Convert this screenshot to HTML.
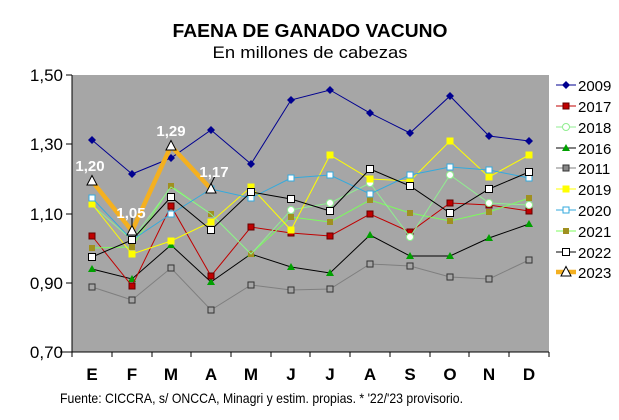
<!DOCTYPE html>
<html><head><meta charset="utf-8"><style>
html,body{margin:0;padding:0;background:#fff;}
svg{display:block;font-family:"Liberation Sans",Arial,sans-serif;}
</style></head><body>
<svg width="619" height="420" viewBox="0 0 619 420">
<defs>
<path id="dia" d="M0,-4 L4,0 L0,4 L-4,0Z"/>
<rect id="sq" x="-3.5" y="-3.5" width="7" height="7"/>
<rect id="sqs" x="-3" y="-3" width="6" height="6"/>
<path id="tri" d="M0,-4 L4,3 L-4,3Z"/>
<path id="triL" d="M0,-5.5 L5,4 L-5,4Z"/>
</defs>
<text x="310" y="37" text-anchor="middle" font-weight="bold" font-size="18" textLength="275" lengthAdjust="spacingAndGlyphs">FAENA DE GANADO VACUNO</text>
<text x="310" y="58" text-anchor="middle" font-size="17" textLength="195" lengthAdjust="spacingAndGlyphs">En millones de cabezas</text>
<rect x="72" y="75" width="477" height="277" fill="#a6a6a6"/>
<g stroke="#000" stroke-width="1">
<line x1="72" y1="75" x2="72" y2="352"/>
<line x1="60" y1="352" x2="549" y2="352"/>
<line x1="66" y1="75" x2="72" y2="75"/><line x1="66" y1="144" x2="72" y2="144"/><line x1="66" y1="214" x2="72" y2="214"/><line x1="66" y1="283" x2="72" y2="283"/>
<path d="M112,352v5M152,352v5M191,352v5M231,352v5M271,352v5M310,352v5M350,352v5M390,352v5M430,352v5M469,352v5M509,352v5M549,352v5M72,352v5"/>
</g>
<g font-size="17" text-anchor="end">
<text x="63" y="81">1,50</text><text x="63" y="150">1,30</text><text x="63" y="220">1,10</text><text x="63" y="289">0,90</text><text x="63" y="358">0,70</text>
</g>
<g font-size="17" font-weight="bold" text-anchor="middle">
<text x="92" y="380">E</text><text x="132" y="380">F</text><text x="171" y="380">M</text><text x="211" y="380">A</text><text x="251" y="380">M</text><text x="291" y="380">J</text><text x="330" y="380">J</text><text x="370" y="380">A</text><text x="410" y="380">S</text><text x="450" y="380">O</text><text x="489" y="380">N</text><text x="529" y="380">D</text>
</g>
<text x="60" y="403" font-size="14" textLength="403" lengthAdjust="spacingAndGlyphs">Fuente: CICCRA, s/ ONCCA, Minagri y estim. propias. * '22/'23 provisorio.</text>

<!-- 2011 gray -->
<g stroke="#7f7f7f" fill="#a6a6a6">
<polyline fill="none" points="92,287 132,300 171,268 211,310 251,285 291,290 330,289 370,264 410,266 450,277 489,279 529,260"/>
<g stroke="#333"><use href="#sqs" x="92" y="287"/><use href="#sqs" x="132" y="300"/><use href="#sqs" x="171" y="268"/><use href="#sqs" x="211" y="310"/><use href="#sqs" x="251" y="285"/><use href="#sqs" x="291" y="290"/><use href="#sqs" x="330" y="289"/><use href="#sqs" x="370" y="264"/><use href="#sqs" x="410" y="266"/><use href="#sqs" x="450" y="277"/><use href="#sqs" x="489" y="279"/><use href="#sqs" x="529" y="260"/></g>
</g>
<!-- 2016 -->
<g stroke="#000" fill="#00a000">
<polyline fill="none" points="92,269 132,279 171,245 211,282 251,254 291,267 330,273 370,235 410,256 450,256 489,238 529,224"/>
<g stroke="none"><use href="#tri" x="92" y="269"/><use href="#tri" x="132" y="279"/><use href="#tri" x="171" y="245"/><use href="#tri" x="211" y="282"/><use href="#tri" x="251" y="254"/><use href="#tri" x="291" y="267"/><use href="#tri" x="330" y="273"/><use href="#tri" x="370" y="235"/><use href="#tri" x="410" y="256"/><use href="#tri" x="450" y="256"/><use href="#tri" x="489" y="238"/><use href="#tri" x="529" y="224"/></g>
</g>
<!-- 2017 -->
<g stroke="#c00000" fill="#c00000">
<polyline fill="none" points="92,236 132,286 171,206 211,276 251,227 291,233 330,236 370,214 410,232 450,203 489,205 529,211"/>
<g stroke="#600"><use href="#sqs" x="92" y="236"/><use href="#sqs" x="132" y="286"/><use href="#sqs" x="171" y="206"/><use href="#sqs" x="211" y="276"/><use href="#sqs" x="251" y="227"/><use href="#sqs" x="291" y="233"/><use href="#sqs" x="330" y="236"/><use href="#sqs" x="370" y="214"/><use href="#sqs" x="410" y="232"/><use href="#sqs" x="450" y="203"/><use href="#sqs" x="489" y="205"/><use href="#sqs" x="529" y="211"/></g>
</g>
<!-- 2021 -->
<g stroke="#7cfc5c" fill="#a09020">
<polyline fill="none" points="92,248 132,247 171,186 211,214 251,254 291,217 330,222 370,200 410,213 450,221 489,212 529,198"/>
<g stroke="none"><use href="#sqs" x="92" y="248"/><use href="#sqs" x="132" y="247"/><use href="#sqs" x="171" y="186"/><use href="#sqs" x="211" y="214"/><use href="#sqs" x="251" y="254"/><use href="#sqs" x="291" y="217"/><use href="#sqs" x="330" y="222"/><use href="#sqs" x="370" y="200"/><use href="#sqs" x="410" y="213"/><use href="#sqs" x="450" y="221"/><use href="#sqs" x="489" y="212"/><use href="#sqs" x="529" y="198"/></g>
</g>
<!-- 2018 -->
<g stroke="#90ee90" fill="#fff">
<polyline fill="none" points="92,205 132,240 171,187 211,214 251,254 291,210 330,203 370,183 410,237 450,175 489,203 529,205"/>
<circle cx="370" cy="183" r="3.5"/><circle cx="410" cy="237" r="3.5"/><circle cx="450" cy="175" r="3.5"/><circle cx="489" cy="203" r="3.5"/><circle cx="529" cy="205" r="3.5"/><circle cx="291" cy="210" r="3.5"/><circle cx="330" cy="203" r="3.5"/>
</g>
<!-- 2019 -->
<g stroke="#ffff00" fill="#ffff00">
<polyline fill="none" points="92,204 132,254 171,241 211,222 251,187 291,230 330,155 370,179 410,181 450,141 489,177 529,155"/>
<g stroke="none"><use href="#sq" x="92" y="204"/><use href="#sq" x="132" y="254"/><use href="#sq" x="171" y="241"/><use href="#sq" x="211" y="222"/><use href="#sq" x="251" y="187"/><use href="#sq" x="291" y="230"/><use href="#sq" x="330" y="155"/><use href="#sq" x="370" y="179"/><use href="#sq" x="410" y="181"/><use href="#sq" x="450" y="141"/><use href="#sq" x="489" y="177"/><use href="#sq" x="529" y="155"/></g>
</g>
<!-- 2020 -->
<g stroke="#33aadd" fill="#fff">
<polyline fill="none" points="92,198 132,240 171,214 211,189 251,198 291,178 330,175 370,194 410,175 450,167 489,170 529,178"/>
<use href="#sqs" x="92" y="198"/><use href="#sqs" x="132" y="240"/><use href="#sqs" x="171" y="214"/><use href="#sqs" x="211" y="189"/><use href="#sqs" x="251" y="198"/><use href="#sqs" x="291" y="178"/><use href="#sqs" x="330" y="175"/><use href="#sqs" x="370" y="194"/><use href="#sqs" x="410" y="175"/><use href="#sqs" x="450" y="167"/><use href="#sqs" x="489" y="170"/><use href="#sqs" x="529" y="178"/>
</g>
<!-- 2022 -->
<g stroke="#000" fill="#fff">
<polyline fill="none" points="92,257 132,240 171,197 211,230 251,192 291,199 330,211 370,169 410,186 450,213 489,189 529,172"/>
<use href="#sq" x="92" y="257"/><use href="#sq" x="132" y="240"/><use href="#sq" x="171" y="197"/><use href="#sq" x="211" y="230"/><use href="#sq" x="251" y="192"/><use href="#sq" x="291" y="199"/><use href="#sq" x="330" y="211"/><use href="#sq" x="370" y="169"/><use href="#sq" x="410" y="186"/><use href="#sq" x="450" y="213"/><use href="#sq" x="489" y="189"/><use href="#sq" x="529" y="172"/>
</g>
<!-- 2009 -->
<g stroke="#000090" fill="#000090">
<polyline fill="none" points="92,140 132,174 171,158 211,130 251,164 291,100 330,90 370,113 410,133 450,96 489,136 529,141"/>
<g stroke="none"><use href="#dia" x="92" y="140"/><use href="#dia" x="132" y="174"/><use href="#dia" x="171" y="158"/><use href="#dia" x="211" y="130"/><use href="#dia" x="251" y="164"/><use href="#dia" x="291" y="100"/><use href="#dia" x="330" y="90"/><use href="#dia" x="370" y="113"/><use href="#dia" x="410" y="133"/><use href="#dia" x="450" y="96"/><use href="#dia" x="489" y="136"/><use href="#dia" x="529" y="141"/></g>
</g>
<!-- 2023 -->
<polyline fill="none" stroke="#f4b020" stroke-width="4.5" stroke-linejoin="round" points="92,181 132,231 171,146 211,189"/>
<g stroke="#000" fill="#fff"><use href="#triL" x="92" y="181"/><use href="#triL" x="132" y="231"/><use href="#triL" x="171" y="146"/><use href="#triL" x="211" y="189"/></g>
<g stroke="#000"><line x1="132" y1="226" x2="132" y2="217"/><line x1="211" y1="184" x2="215" y2="176"/></g>
<g font-size="15" font-weight="bold" fill="#fff" text-anchor="middle">
<text x="90" y="171">1,20</text><text x="131" y="218">1,05</text><text x="171" y="136">1,29</text><text x="214" y="177">1,17</text>
</g>

<!-- legend -->
<g font-size="15">
<g transform="translate(0,85)"><line x1="556" y1="0" x2="576" y2="0" stroke="#000090"/><use href="#dia" x="566" y="0" fill="#000090"/><text x="578" y="6">2009</text></g>
<g transform="translate(0,106)"><line x1="556" y1="0" x2="576" y2="0" stroke="#c00000"/><use href="#sqs" x="566" y="0" fill="#c00000" stroke="#600"/><text x="578" y="6">2017</text></g>
<g transform="translate(0,127)"><line x1="556" y1="0" x2="576" y2="0" stroke="#90ee90"/><circle cx="566" cy="0" r="3.5" fill="#fff" stroke="#90ee90"/><text x="578" y="6">2018</text></g>
<g transform="translate(0,148)"><line x1="556" y1="0" x2="576" y2="0" stroke="#000"/><use href="#tri" x="566" y="0" fill="#00a000"/><text x="578" y="6">2016</text></g>
<g transform="translate(0,168)"><line x1="556" y1="0" x2="576" y2="0" stroke="#7f7f7f"/><use href="#sqs" x="566" y="0" fill="#888" stroke="#333"/><text x="578" y="6">2011</text></g>
<g transform="translate(0,189)"><line x1="556" y1="0" x2="576" y2="0" stroke="#ffff00"/><use href="#sq" x="566" y="0" fill="#ffff00"/><text x="578" y="6">2019</text></g>
<g transform="translate(0,210)"><line x1="556" y1="0" x2="576" y2="0" stroke="#33aadd"/><use href="#sqs" x="566" y="0" fill="#fff" stroke="#33aadd"/><text x="578" y="6">2020</text></g>
<g transform="translate(0,231)"><line x1="556" y1="0" x2="576" y2="0" stroke="#7cfc5c"/><use href="#sqs" x="566" y="0" fill="#a09020"/><text x="578" y="6">2021</text></g>
<g transform="translate(0,252)"><line x1="556" y1="0" x2="576" y2="0" stroke="#000"/><use href="#sq" x="566" y="0" fill="#fff" stroke="#000"/><text x="578" y="6">2022</text></g>
<g transform="translate(0,272)"><line x1="556" y1="0" x2="576" y2="0" stroke="#f4b020" stroke-width="4.5"/><use href="#triL" x="566" y="0" fill="#fff" stroke="#000"/><text x="578" y="6">2023</text></g>
</g>
</svg>
</body></html>
